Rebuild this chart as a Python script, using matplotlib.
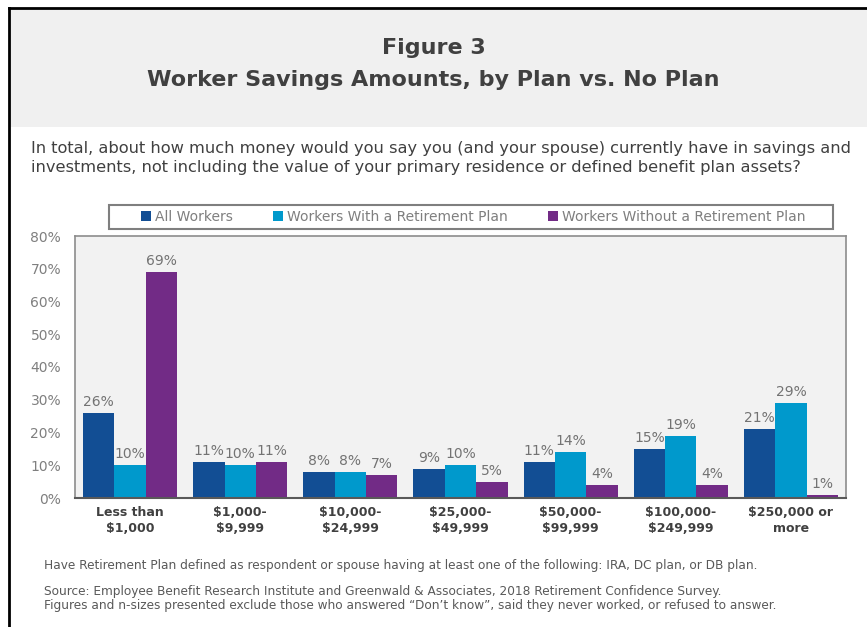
import matplotlib
matplotlib.use('Agg')
import matplotlib.pyplot as plt
import numpy as np
from matplotlib.patches import Rectangle, Patch
from matplotlib.lines import Line2D

plt.rcParams['font.family'] = ['DejaVu Sans']

# Data
categories = ['Less than\n$1,000', '$1,000-\n$9,999', '$10,000-\n$24,999', '$25,000-\n$49,999',
              '$50,000-\n$99,999', '$100,000-\n$249,999', '$250,000 or\nmore']
series_names = ['All Workers', 'Workers With a Retirement Plan', 'Workers Without a Retirement Plan']
all_workers = [26, 11, 8, 9, 11, 15, 21]
with_plan = [10, 10, 8, 10, 14, 19, 29]
without_plan = [69, 11, 7, 5, 4, 4, 1]
yticks = [0, 10, 20, 30, 40, 50, 60, 70, 80]

colors = ['#124E94', '#0099CC', '#722B86']
text_gray = '#595959'

W, H = 867, 627
fig = plt.figure(figsize=(W / 100, H / 100), dpi=100)

def fx(px):
    return px / W

def fy(py):
    return 1 - py / H

# header band and page frame
fig.patches.append(Rectangle((fx(9), fy(127)), 1 - fx(9), fy(8) - fy(127),
                             transform=fig.transFigure, facecolor='#f0f0f0', edgecolor='none', zorder=0))
fig.lines.append(Line2D([fx(9), fx(9)], [0, fy(8)], transform=fig.transFigure, color='black', lw=2))
fig.lines.append(Line2D([fx(9), 1], [fy(8), fy(8)], transform=fig.transFigure, color='black', lw=2))

fig.text(0.5, fy(48), 'Figure 3', ha='center', va='center', fontsize=16, fontweight='bold', color='#404040')
fig.text(0.5, fy(80), 'Worker Savings Amounts, by Plan vs. No Plan', ha='center', va='center',
         fontsize=16, fontweight='bold', color='#404040')

fig.text(fx(31), fy(158), 'In total, about how much money would you say you (and your spouse) currently have in savings and\n'
         'investments, not including the value of your primary residence or defined benefit plan assets?',
         ha='left', va='center', fontsize=11.7, color='#404040', linespacing=1.4)

ax = fig.add_axes([fx(75), fy(498), fx(846) - fx(75), fy(236) - fy(498)])
ax.set_facecolor('#f2f2f2')

x = np.arange(len(categories))
bw = 0.285
for i, (vals, c) in enumerate(zip([all_workers, with_plan, without_plan], colors)):
    bars = ax.bar(x + (i - 1) * bw, vals, width=bw, color=c, label=series_names[i], zorder=2)
    for b, v in zip(bars, vals):
        ax.text(b.get_x() + b.get_width() / 2, v + 1.2, f'{v}%', ha='center', va='bottom',
                fontsize=10, color='#737373')

ax.set_xlim(-0.5, len(categories) - 0.5)
ax.set_ylim(0, 80)
ax.set_yticks(yticks)
ax.set_yticklabels([f'{t}%' for t in yticks], fontsize=10, color='#7f7f7f')
ax.set_xticks(x)
ax.set_xticklabels(categories, fontsize=9, fontweight='bold', color='#404040', linespacing=1.3)
ax.tick_params(axis='both', length=0)
ax.tick_params(axis='y', pad=10)
ax.tick_params(axis='x', pad=6)
for s in ['top', 'right', 'left']:
    ax.spines[s].set_color('#8c8c8c')
    ax.spines[s].set_linewidth(1.2)
ax.spines['bottom'].set_color('#595959')
ax.spines['bottom'].set_linewidth(1.5)

# legend frame drawn separately so it can be wider than its entries
fig.patches.append(Rectangle((fx(109), fy(229)), fx(833) - fx(109), fy(205) - fy(229),
                             transform=fig.transFigure, facecolor='white', edgecolor='#7f7f7f',
                             lw=1.5, zorder=1))
handles = [Patch(facecolor=c, label=n) for c, n in zip(colors, series_names)]
leg = fig.legend(handles=handles, loc='center', bbox_to_anchor=(fx(473), fy(217)), ncol=3,
                 fontsize=10, frameon=False,
                 handlelength=0.7, handleheight=0.7, handletextpad=0.3, columnspacing=2.9,
                 borderpad=0.25)
for t in leg.get_texts():
    t.set_color('#7f7f7f')

fig.text(fx(44), fy(565), 'Have Retirement Plan defined as respondent or spouse having at least one of the following: IRA, DC plan, or DB plan.',
         ha='left', va='center', fontsize=8.7, color=text_gray)
fig.text(fx(44), fy(598), 'Source: Employee Benefit Research Institute and Greenwald & Associates, 2018 Retirement Confidence Survey.\n'
         'Figures and n-sizes presented exclude those who answered \u201cDon\u2019t know\u201d, said they never worked, or refused to answer.',
         ha='left', va='center', fontsize=8.7, color=text_gray, linespacing=1.1)

fig.savefig('out.png', dpi=100)
